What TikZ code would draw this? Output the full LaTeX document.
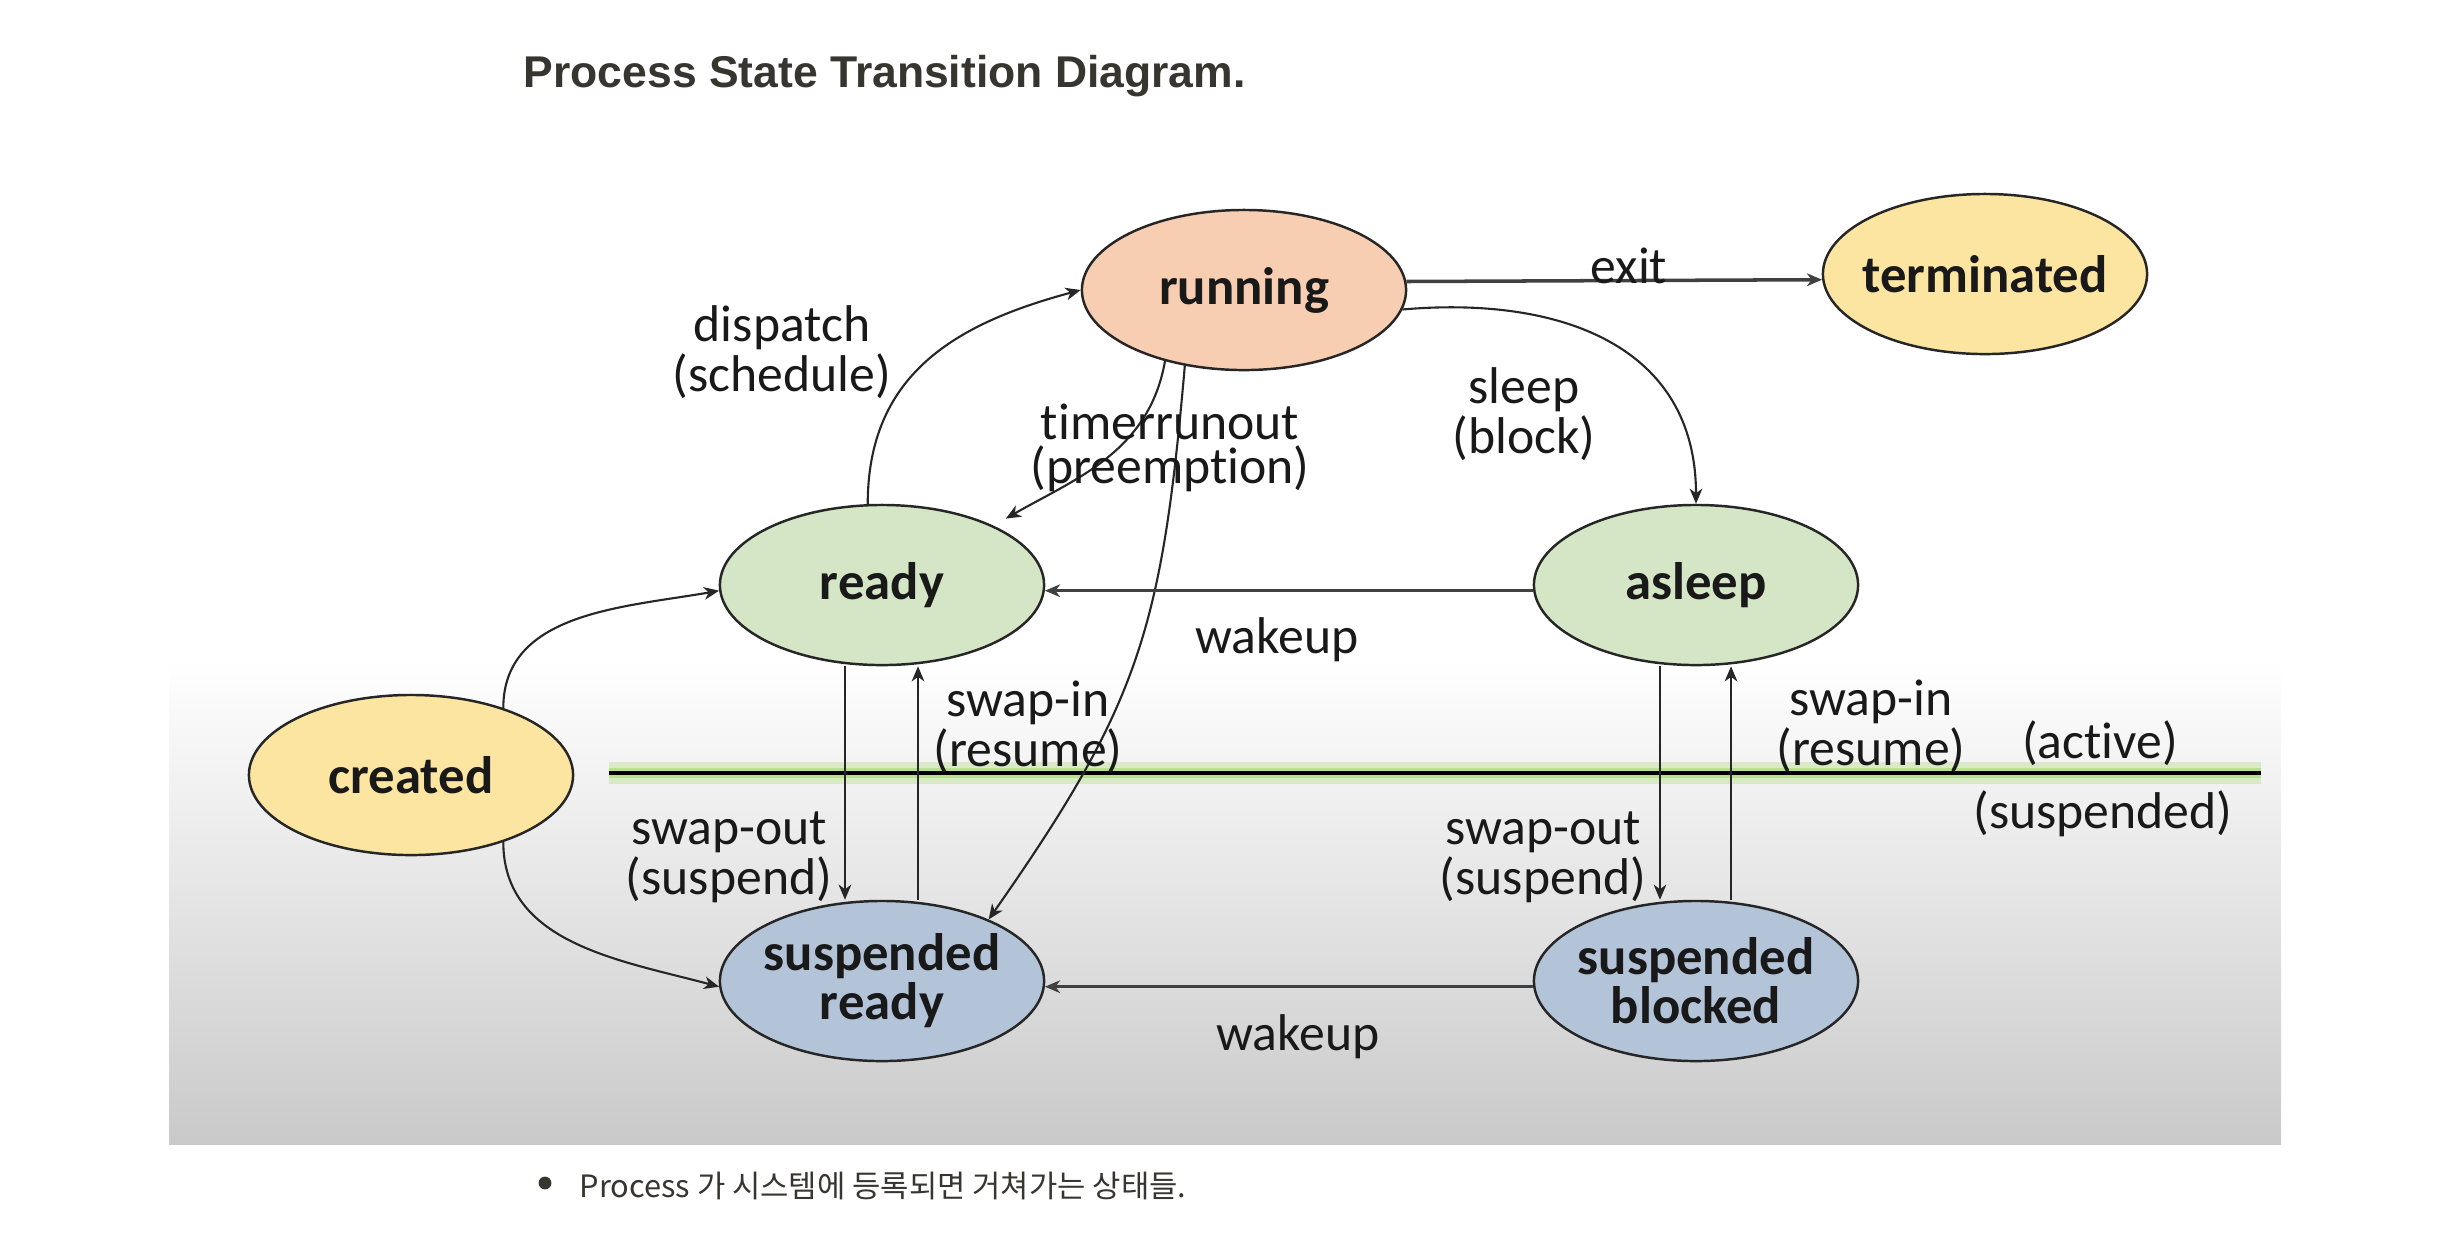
\documentclass[tikz,border=0pt]{standalone}
\usepackage{fontspec}
\setmainfont{Carlito}[Ligatures=NoCommon]
\newfontfamily\titlefont{Liberation Sans}
\newfontfamily\krfont{Noto Sans CJK KR}
\usetikzlibrary{arrows.meta, shapes.geometric, calc, positioning}
\definecolor{notiontext}{RGB}{55,53,47}
\definecolor{runfill}{RGB}{247,206,178}
\definecolor{endfill}{RGB}{251,229,160}
\definecolor{actfill}{RGB}{212,230,197}
\definecolor{susfill}{RGB}{180,196,216}
\definecolor{glowgreen}{RGB}{178,222,130}
\tikzset{
	every node/.style={
		font=\fontsize{14.7}{12.6}\selectfont,
		text=black!90
	},
	proc/.style={
		shape=ellipse,
		draw=black!85,
		line width=0.7pt,
		minimum width=3.24cm,
		minimum height=1.6cm,
		inner xsep=-4pt,
		inner ysep=0pt,
		align=center,
		font=\bfseries\fontsize{15}{12.8}\selectfont
	},
	trans/.style={
		-{Stealth[length=4.3pt,width=3.6pt,inset=1.3pt]},
		line width=0.6pt,
		draw=black!85
	},
	heavy trans/.style={
		trans,
		line width=1pt,
		draw=black!75
	},
	tlabel/.style={
		align=center,
		inner sep=0pt
	}
}

\begin{document}
\begin{tikzpicture}[x=0.01cm,y=0.01cm]
	\useasboundingbox (0,0) rectangle (2448,-1256);

	% panel and active/suspended divider
	\shade[top color=white, bottom color=black!21] (169,-660) rectangle (2281,-1144);
	\draw[glowgreen, line width=6pt, opacity=0.4] (609,-773) -- (2261,-773);
	\draw[glowgreen, line width=3pt, opacity=0.8] (609,-773) -- (2261,-773);
	\draw[black, line width=1pt] (609,-773) -- (2261,-773);

	\node[proc, fill=runfill]  (running)    at (1244,-290) {running};
	\node[proc, fill=endfill]  (terminated) at (1985,-274) {terminated};
	\node[proc, fill=actfill]  (ready)      at (882,-585)  {ready};
	\node[proc, fill=actfill]  (asleep)     at (1696,-585) {asleep};
	\node[proc, fill=endfill]  (created)    at (411,-775)  {created};
	\node[proc, fill=susfill]  (sready)     at (882,-981)  {suspended\\ready};
	\node[proc, fill=susfill]  (sblocked)   at (1696,-981) {suspended\\blocked};

	\draw[heavy trans] (running.3) -- (terminated.182);
	\draw[trans] (running.-7) to[out=5, in=90, looseness=1.15] (asleep.north);
	\draw[trans] (ready.100) to[out=90, in=195, looseness=1.1] (running.west);
	\draw[trans, shorten >=4pt] (running.222) to[out=-100, in=30] (ready.28);
	\draw[trans] (running.232) to[out=-95, in=55, looseness=1.15] (sready.30);
	\draw[heavy trans] (asleep.182) -- (ready.-2);
	\draw[heavy trans] (sblocked.182) -- (sready.-2);
	\draw[trans] (created.36) to[out=90, in=190] (ready.182);
	\draw[trans] (created.-36) to[out=-90, in=165] (sready.182);
	\draw[trans] ([xshift=-0.37cm]ready.south) -- ([xshift=-0.37cm]sready.north);
	\draw[trans] ([xshift=0.36cm]sready.north) -- ([xshift=0.36cm]ready.south);
	\draw[trans] ([xshift=-0.36cm]asleep.south) -- ([xshift=-0.36cm]sblocked.north);
	\draw[trans] ([xshift=0.35cm]sblocked.north) -- ([xshift=0.35cm]asleep.south);

	\node[tlabel, anchor=base] (l-exit) at (1629,-283) {exit};
	\node[tlabel] (l-sleep)    at (1524,-414) {sleep\\(block)};
	\node[tlabel] (l-dispatch) at (782,-352)  {dispatch\\(schedule)};
	\node[tlabel] (l-timer)    at (1170,-448) {timerrunout\\(preemption)};
	\node[tlabel] (l-wake)     at (1277,-640) {wakeup};
	\node[tlabel] (l-swake)    at (1298,-1037) {wakeup};
	\node[tlabel] (l-out)      at (729,-857)  {swap-out\\(suspend)};
	\node[tlabel] (l-in)       at (1028,-727) {swap-in\\(resume)};
	\node[tlabel] (l-bout)     at (1543,-857) {swap-out\\(suspend)};
	\node[tlabel] (l-bin)      at (1871,-726) {swap-in\\(resume)};
	\node[tlabel] (l-active)   at (2100,-743) {(active)};
	\node[tlabel] (l-susp)     at (2103,-814) {(suspended)};

	% page text around the figure
	\node[anchor=base west, inner sep=0pt, text=notiontext,
		font=\titlefont\bfseries\fontsize{12.65}{15}\selectfont] (title) at (523,-87)
		{Process State Transition Diagram.};
	\fill[notiontext] (545,-1183) circle (6.4);
	\node[anchor=base west, inner sep=0pt, text=notiontext,
		font=\krfont\fontsize{8.75}{10}\selectfont] (caption) at (579,-1197)
		{Process 가 시스템에 등록되면 거쳐가는 상태들.};
\end{tikzpicture}
\end{document}
